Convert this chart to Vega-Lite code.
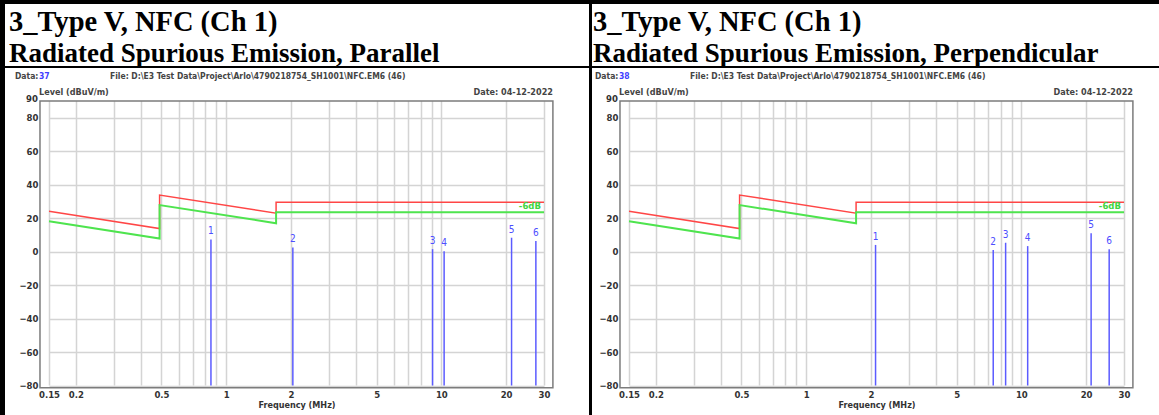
{
  "$schema": "https://vega.github.io/schema/vega-lite/v6.json",
  "background": "black",
  "padding": {"left": 5, "top": 4, "right": 0, "bottom": 0},
  "spacing": 3,
  "datasets": {
    "limits": [
      {"i": 0, "f": 0.15, "limit": 24.08, "margin": 18.08},
      {"i": 1, "f": 0.49, "limit": 13.8, "margin": 7.8},
      {"i": 2, "f": 0.49, "limit": 33.8, "margin": 27.8},
      {"i": 3, "f": 1.705, "limit": 22.97, "margin": 16.97},
      {"i": 4, "f": 1.705, "limit": 29.54, "margin": 23.54},
      {"i": 5, "f": 30, "limit": 29.54, "margin": 23.54}
    ],
    "mk_par": [
      {"n": "1", "f": 0.849, "level": 7.3},
      {"n": "2", "f": 2.04, "level": 2.5},
      {"n": "3", "f": 9.1, "level": 1.5},
      {"n": "4", "f": 10.3, "level": 0.2},
      {"n": "5", "f": 21.2, "level": 8.3},
      {"n": "6", "f": 27.5, "level": 6.4}
    ],
    "mk_perp": [
      {"n": "1", "f": 2.1, "level": 4.0},
      {"n": "2", "f": 7.4, "level": 1.0},
      {"n": "3", "f": 8.45, "level": 5.3},
      {"n": "4", "f": 10.7, "level": 3.3},
      {"n": "5", "f": 21.1, "level": 11.0},
      {"n": "6", "f": 25.6, "level": 1.4}
    ]
  },
  "hconcat": [
    {
      "spacing": 1,
      "vconcat": [
        {
          "width": 584, "height": 62,
          "view": {"fill": "white", "stroke": null},
          "data": {"values": [{"row": 1, "line": "3_Type V, NFC (Ch 1)"}, {"row": 2, "line": "Radiated Spurious Emission, Parallel"}]},
          "mark": {"type": "text", "align": "left", "baseline": "alphabetic", "font": "Liberation Serif", "fontWeight": "bold", "color": "black", "dx": 4},
          "encoding": {
            "x": {"datum": 0, "type": "quantitative", "scale": {"domain": [0, 1], "nice": false}, "axis": null},
            "y": {"field": "row", "type": "ordinal", "scale": {"type": "point", "paddingOuter": 0.6, "align": 0.87}, "axis": null},
            "size": {"condition": {"test": "datum.row == 1", "value": 28.5}, "value": 27},
            "text": {"field": "line"}
          }
        },
        {
          "width": 584, "height": 350,
          "view": {"fill": "white", "stroke": null},
          "layer": [
            {
              "data": {"name": "limits"},
              "mark": {"type": "line", "color": "#ff4646", "strokeWidth": 1.5},
              "encoding": {
                "x": {"field": "f", "type": "quantitative",
                  "scale": {"type": "log", "domain": [0.15, 30], "range": [44, 539], "nice": false},
                  "axis": {"values": [0.15, 0.2, 0.3, 0.4, 0.5, 0.6, 0.7, 0.8, 0.9, 1, 2, 3, 4, 5, 6, 7, 8, 9, 10, 20, 30],
                    "labelExpr": "indexof([0.15, 0.2, 0.5, 1, 2, 5, 10, 20, 30], datum.value) >= 0 ? format(datum.value, '~g') : ''",
                    "title": "Frequency (MHz)", "offset": -30.3, "domain": false, "ticks": false, "grid": true,
                    "labelOverlap": false, "labelFlush": false, "labelPadding": 2, "titlePadding": 1}},
                "y": {"field": "limit", "type": "quantitative",
                  "scale": {"domain": [-80, 90], "range": [317.5, 33], "nice": false, "zero": false},
                  "axis": {"values": [-80, -60, -40, -20, 0, 20, 40, 60, 80], "title": null, "offset": -35,
                    "domain": false, "ticks": false, "grid": true, "labelOverlap": false, "labelFlush": false, "labelPadding": 2}},
                "order": {"field": "i"}
              }
            },
            {
              "data": {"name": "limits"},
              "mark": {"type": "line", "color": "#4ee44e", "strokeWidth": 2},
              "encoding": {"x": {"field": "f", "type": "quantitative"}, "y": {"field": "margin", "type": "quantitative"}, "order": {"field": "i"}}
            },
            {
              "data": {"name": "mk_par"},
              "mark": {"type": "rule", "color": "#5b5bff", "strokeWidth": 1.5},
              "encoding": {"x": {"field": "f", "type": "quantitative"}, "y": {"field": "level", "type": "quantitative"}, "y2": {"datum": -80}}
            },
            {
              "data": {"name": "mk_par"},
              "mark": {"type": "text", "color": "#4d4dff", "baseline": "bottom", "dy": -3, "fontSize": 10},
              "encoding": {"x": {"field": "f", "type": "quantitative"}, "y": {"field": "level", "type": "quantitative"}, "text": {"field": "n"}}
            },
            {
              "data": {"values": [{}]},
              "mark": {"type": "rect", "fill": "transparent", "stroke": "#7c7c7c", "strokeWidth": 1.5},
              "encoding": {"x": {"datum": 0.1362}, "x2": {"datum": 33.0}, "y": {"datum": 90}, "y2": {"datum": -81.3}}
            },
            {
              "data": {"values": [{}]},
              "mark": {"type": "text", "text": "90", "align": "right", "baseline": "middle", "dx": -2, "dy": -2, "color": "#333", "fontSize": 9.5, "fontWeight": "bold"},
              "encoding": {"x": {"datum": 0.1362}, "y": {"datum": 90}}
            },
            {
              "data": {"values": [{}]},
              "mark": {"type": "text", "text": "-6dB", "align": "right", "baseline": "bottom", "dx": -3, "dy": -1, "color": "#3fd43f", "fontSize": 9.5, "fontWeight": "bold"},
              "encoding": {"x": {"datum": 30}, "y": {"datum": 23.54}}
            },
            {
              "data": {"values": [{}]},
              "mark": {"type": "text", "text": "Data:", "align": "left", "baseline": "middle", "dx": -25, "dy": -25, "color": "#444", "fontSize": 8.5, "fontWeight": "bold"},
              "encoding": {"x": {"datum": 0.1362}, "y": {"datum": 90}}
            },
            {
              "data": {"values": [{}]},
              "mark": {"type": "text", "text": "37", "align": "left", "baseline": "middle", "dx": -1, "dy": -25, "color": "#3f3fff", "fontSize": 8.5, "fontWeight": "bold"},
              "encoding": {"x": {"datum": 0.1362}, "y": {"datum": 90}}
            },
            {
              "data": {"values": [{}]},
              "mark": {"type": "text", "text": "File: D:\\E3 Test Data\\Project\\Arlo\\4790218754_SH1001\\NFC.EM6  (46)", "align": "left", "baseline": "middle", "dx": 70, "dy": -25, "color": "#444", "fontSize": 8.5, "fontWeight": "bold"},
              "encoding": {"x": {"datum": 0.1362}, "y": {"datum": 90}}
            },
            {
              "data": {"values": [{}]},
              "mark": {"type": "text", "text": "Level (dBuV/m)", "align": "left", "baseline": "middle", "dx": -1, "dy": -9, "color": "#444", "fontSize": 9, "fontWeight": "bold"},
              "encoding": {"x": {"datum": 0.1362}, "y": {"datum": 90}}
            },
            {
              "data": {"values": [{}]},
              "mark": {"type": "text", "text": "Date: 04-12-2022", "align": "right", "baseline": "middle", "dx": 0, "dy": -9, "color": "#444", "fontSize": 9, "fontWeight": "bold"},
              "encoding": {"x": {"datum": 33.0}, "y": {"datum": 90}}
            }
          ]
        }
      ]
    },
    {
      "spacing": 1,
      "vconcat": [
        {
          "width": 567, "height": 62,
          "view": {"fill": "white", "stroke": null},
          "data": {"values": [{"row": 1, "line": "3_Type V, NFC (Ch 1)"}, {"row": 2, "line": "Radiated Spurious Emission, Perpendicular"}]},
          "mark": {"type": "text", "align": "left", "baseline": "alphabetic", "font": "Liberation Serif", "fontWeight": "bold", "color": "black", "dx": 1},
          "encoding": {
            "x": {"datum": 0, "type": "quantitative", "scale": {"domain": [0, 1], "nice": false}, "axis": null},
            "y": {"field": "row", "type": "ordinal", "scale": {"type": "point", "paddingOuter": 0.6, "align": 0.87}, "axis": null},
            "size": {"condition": {"test": "datum.row == 1", "value": 28.5}, "value": 27},
            "text": {"field": "line"}
          }
        },
        {
          "width": 567, "height": 350,
          "view": {"fill": "white", "stroke": null},
          "layer": [
            {
              "data": {"name": "limits"},
              "mark": {"type": "line", "color": "#ff4646", "strokeWidth": 1.5},
              "encoding": {
                "x": {"field": "f", "type": "quantitative",
                  "scale": {"type": "log", "domain": [0.15, 30], "range": [37, 532], "nice": false},
                  "axis": {"values": [0.15, 0.2, 0.3, 0.4, 0.5, 0.6, 0.7, 0.8, 0.9, 1, 2, 3, 4, 5, 6, 7, 8, 9, 10, 20, 30],
                    "labelExpr": "indexof([0.15, 0.2, 0.5, 1, 2, 5, 10, 20, 30], datum.value) >= 0 ? format(datum.value, '~g') : ''",
                    "title": "Frequency (MHz)", "offset": -30.3, "domain": false, "ticks": false, "grid": true,
                    "labelOverlap": false, "labelFlush": false, "labelPadding": 2, "titlePadding": 1}},
                "y": {"field": "limit", "type": "quantitative",
                  "scale": {"domain": [-80, 90], "range": [317.5, 33], "nice": false, "zero": false},
                  "axis": {"values": [-80, -60, -40, -20, 0, 20, 40, 60, 80], "title": null, "offset": -28,
                    "domain": false, "ticks": false, "grid": true, "labelOverlap": false, "labelFlush": false, "labelPadding": 2}},
                "order": {"field": "i"}
              }
            },
            {
              "data": {"name": "limits"},
              "mark": {"type": "line", "color": "#4ee44e", "strokeWidth": 2},
              "encoding": {"x": {"field": "f", "type": "quantitative"}, "y": {"field": "margin", "type": "quantitative"}, "order": {"field": "i"}}
            },
            {
              "data": {"name": "mk_perp"},
              "mark": {"type": "rule", "color": "#5b5bff", "strokeWidth": 1.5},
              "encoding": {"x": {"field": "f", "type": "quantitative"}, "y": {"field": "level", "type": "quantitative"}, "y2": {"datum": -80}}
            },
            {
              "data": {"name": "mk_perp"},
              "mark": {"type": "text", "color": "#4d4dff", "baseline": "bottom", "dy": -3, "fontSize": 10},
              "encoding": {"x": {"field": "f", "type": "quantitative"}, "y": {"field": "level", "type": "quantitative"}, "text": {"field": "n"}}
            },
            {
              "data": {"values": [{}]},
              "mark": {"type": "rect", "fill": "transparent", "stroke": "#7c7c7c", "strokeWidth": 1.5},
              "encoding": {"x": {"datum": 0.1362}, "x2": {"datum": 33.0}, "y": {"datum": 90}, "y2": {"datum": -81.3}}
            },
            {
              "data": {"values": [{}]},
              "mark": {"type": "text", "text": "90", "align": "right", "baseline": "middle", "dx": -2, "dy": -2, "color": "#333", "fontSize": 9.5, "fontWeight": "bold"},
              "encoding": {"x": {"datum": 0.1362}, "y": {"datum": 90}}
            },
            {
              "data": {"values": [{}]},
              "mark": {"type": "text", "text": "-6dB", "align": "right", "baseline": "bottom", "dx": -3, "dy": -1, "color": "#3fd43f", "fontSize": 9.5, "fontWeight": "bold"},
              "encoding": {"x": {"datum": 30}, "y": {"datum": 23.54}}
            },
            {
              "data": {"values": [{}]},
              "mark": {"type": "text", "text": "Data:", "align": "left", "baseline": "middle", "dx": -25, "dy": -25, "color": "#444", "fontSize": 8.5, "fontWeight": "bold"},
              "encoding": {"x": {"datum": 0.1362}, "y": {"datum": 90}}
            },
            {
              "data": {"values": [{}]},
              "mark": {"type": "text", "text": "38", "align": "left", "baseline": "middle", "dx": -1, "dy": -25, "color": "#3f3fff", "fontSize": 8.5, "fontWeight": "bold"},
              "encoding": {"x": {"datum": 0.1362}, "y": {"datum": 90}}
            },
            {
              "data": {"values": [{}]},
              "mark": {"type": "text", "text": "File: D:\\E3 Test Data\\Project\\Arlo\\4790218754_SH1001\\NFC.EM6  (46)", "align": "left", "baseline": "middle", "dx": 70, "dy": -25, "color": "#444", "fontSize": 8.5, "fontWeight": "bold"},
              "encoding": {"x": {"datum": 0.1362}, "y": {"datum": 90}}
            },
            {
              "data": {"values": [{}]},
              "mark": {"type": "text", "text": "Level (dBuV/m)", "align": "left", "baseline": "middle", "dx": -1, "dy": -9, "color": "#444", "fontSize": 9, "fontWeight": "bold"},
              "encoding": {"x": {"datum": 0.1362}, "y": {"datum": 90}}
            },
            {
              "data": {"values": [{}]},
              "mark": {"type": "text", "text": "Date: 04-12-2022", "align": "right", "baseline": "middle", "dx": 0, "dy": -9, "color": "#444", "fontSize": 9, "fontWeight": "bold"},
              "encoding": {"x": {"datum": 33.0}, "y": {"datum": 90}}
            }
          ]
        }
      ]
    }
  ],
  "config": {
    "font": "Liberation Sans Narrow, Arial Narrow, DejaVu Sans Condensed, sans-serif",
    "view": {"stroke": null},
    "text": {"font": "Liberation Sans Narrow, Arial Narrow, DejaVu Sans Condensed, sans-serif"},
    "axis": {
      "labelFont": "Liberation Sans Narrow, Arial Narrow, DejaVu Sans Condensed, sans-serif",
      "labelFontSize": 9.5, "labelFontWeight": "bold", "labelColor": "#333",
      "titleFont": "Liberation Sans Narrow, Arial Narrow, DejaVu Sans Condensed, sans-serif",
      "titleFontSize": 9, "titleFontWeight": "bold", "titleColor": "#333",
      "gridColor": "#d4d4d4", "gridWidth": 1.5, "gridOpacity": 1,
      "labelOverlap": false
    },
    "axisY": {"labelOverlap": false, "labelBound": false}
  }
}
